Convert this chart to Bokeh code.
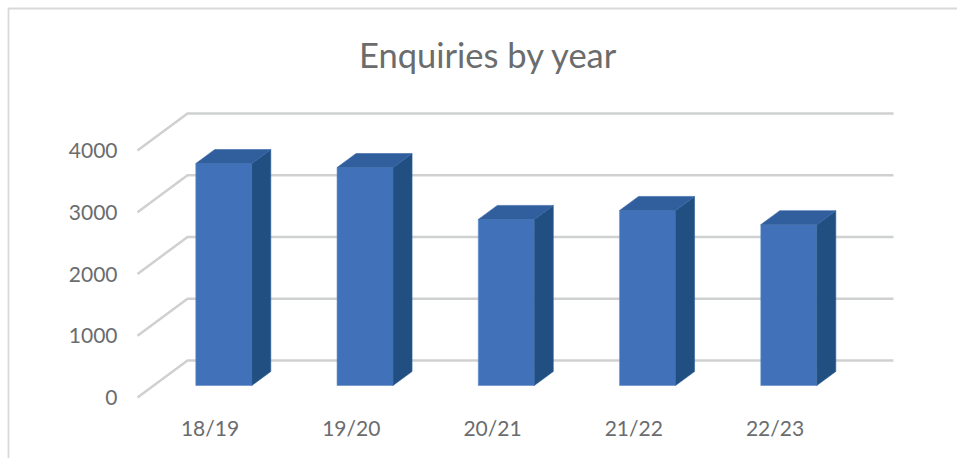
from bokeh.plotting import figure
from bokeh.embed import file_html
from bokeh.resources import INLINE
from bokeh.core.properties import value
from bokeh.models import Range1d

title = "Enquiries by year"
years = ["18/19", "19/20", "20/21", "21/22", "22/23"]
enquiries = [3595, 3530, 2690, 2835, 2605]
y_ticks = [0, 1000, 2000, 3000, 4000]

W, H = 957, 458
X_PX, Y_PX = 141.25, 0.06175      # px per x unit / px per value
x0 = (0 - 224) / X_PX
x1 = x0 + W / X_PX
y0 = -(458 - 385) / Y_PX
y1 = y0 + H / Y_PX

p = figure(width=W, height=H, x_range=Range1d(x0, x1), y_range=Range1d(y0, y1),
           output_backend="svg", toolbar_location=None, min_border=0,
           x_axis_type=None, y_axis_type=None, outline_line_color=None,
           background_fill_color="white", border_fill_color="white")
p.grid.visible = False

# chart-area edge
edge = "#D9D9D9"
ex = x0 + 8 / X_PX
ey = y1 - 8 / Y_PX
p.line([ex, ex, x1], [y0, ey, ey], line_color=edge, line_width=1.8)

# 3-D wall gridlines
wall_left = (187 - 224) / X_PX
wall_right = (893 - 224) / X_PX
floor_left = (137 - 224) / X_PX
back = 25 / Y_PX
front = -12 / Y_PX
grid = "#CFD1D1"
for t in y_ticks:
    p.line([floor_left, wall_left, wall_right], [t + front, t + back, t + back],
           line_color=grid, line_width=2.5)

# bars
half = 28 / X_PX
dx = 19 / X_PX
dy = 14 / Y_PX
nudge = -0.7 / X_PX
xs = list(range(len(years)))
bx = [x + nudge for x in xs]
blue, side, top = "#4172B9", "#214F82", "#315E9D"
p.quad(left=[x - half for x in bx], right=[x + half for x in bx], bottom=[0] * 5, top=enquiries,
       fill_color=blue, line_color="#5F8BC8", line_width=0.6)
p.patches([[x + half, x + half + dx, x + half + dx, x + half] for x in bx],
          [[0, dy, v + dy, v] for v in enquiries],
          fill_color=side, line_color="#2F6098", line_width=0.6)
p.patches([[x - half, x - half + dx, x + half + dx, x + half] for x in bx],
          [[v, v + dy, v + dy, v] for v in enquiries],
          fill_color=top, line_color="#3A68A8", line_width=0.6)

# texts
ink = "#6A6C6E"
font = value("Lato")
p.text(x=[(117 - 224) / X_PX] * 5, y=[t + front for t in y_ticks], text=[str(t) for t in y_ticks],
       text_align="right", text_baseline="middle", text_font=font,
       text_font_size="21px", text_color=ink)
p.text(x=[x - 14.5 / X_PX for x in xs], y=[-42 / Y_PX] * 5, text=years,
       text_align="center", text_baseline="middle", text_font=font,
       text_font_size="21px", text_color=ink)
p.text(x=[(488 - 224) / X_PX], y=[(385 - 54) / Y_PX], text=[title],
       text_align="center", text_baseline="middle", text_font=font,
       text_font_size="34.5px", text_color=ink)

open("out.html", "w").write(file_html(p, INLINE))
